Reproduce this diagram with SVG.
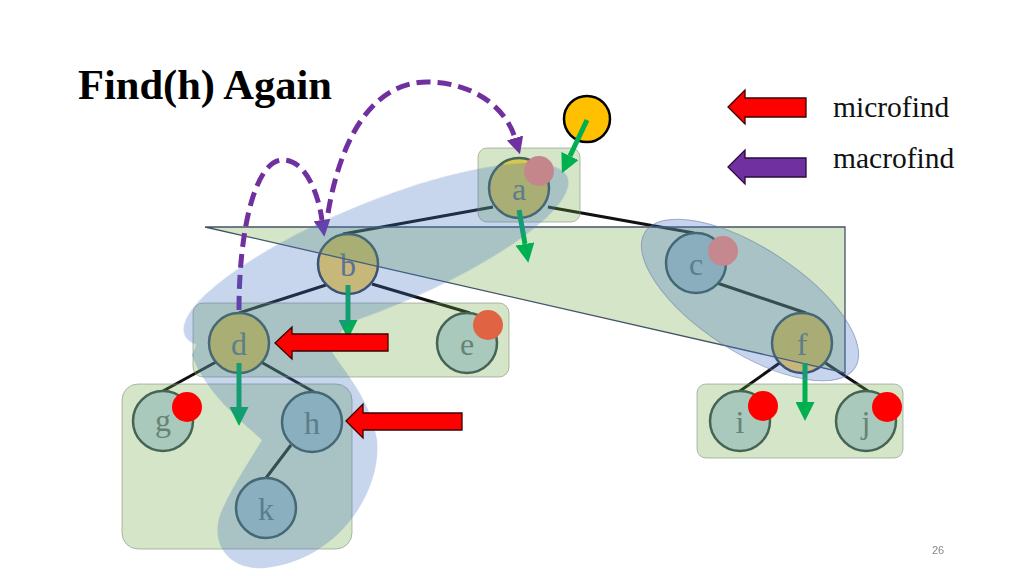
<svg xmlns="http://www.w3.org/2000/svg" width="1024" height="576" viewBox="0 0 1024 576">
<style>
.edge{stroke:#111;stroke-width:3;fill:none}
.nd{stroke:#34465a;stroke-width:2.5}
.gold{fill:#FFD45A}
.blu{fill:#c0d6f0}
.lbl{font-family:"Liberation Serif",serif;font-size:32px;text-anchor:middle;fill:#62728a}
.micro{fill:#70AD47;fill-opacity:0.3;stroke:#7f8f7f;stroke-opacity:0.6;stroke-width:1}
.garrow{stroke:#00B050;stroke-width:5;fill:none;marker-end:url(#gh)}
.parrow{stroke:#7030A0;stroke-width:5;fill:none;stroke-dasharray:14 7;marker-end:url(#ph)}
.redarrow{fill:#FF0000;stroke:#3a0000;stroke-width:1.3}
.legend{font-family:"Liberation Serif",serif;font-size:29.5px;fill:#111}
</style>
<defs>
<marker id="gh" viewBox="0 0 10 10" refX="0" refY="5" markerWidth="19" markerHeight="19" markerUnits="userSpaceOnUse" orient="auto"><path d="M0,0 L10,5 L0,10 z" fill="#00B050"/></marker>
<marker id="ph" viewBox="0 0 10 10" refX="0" refY="5" markerWidth="17" markerHeight="17" markerUnits="userSpaceOnUse" orient="auto"><path d="M0,0 L10,5 L0,10 z" fill="#7030A0"/></marker>
</defs>
<rect width="1024" height="576" fill="#fff"/>
<text x="78" y="99" font-family="Liberation Serif,serif" font-size="42.5" font-weight="bold" fill="#000">Find(h) Again</text>
<g id="legend">
<polygon class="redarrow" points="728,107 745,90 745,98 806,98 806,117 745,117 745,124"/>
<text class="legend" x="833" y="117">microfind</text>
<polygon points="728,167 745,150 745,158 806,158 806,177 745,177 745,184" fill="#7030A0" stroke="#2a0a40" stroke-width="1.3"/>
<text class="legend" x="833" y="168">macrofind</text>
</g>
<g id="connectors">
<line class="edge" x1="493" y1="207" x2="343" y2="234"/>
<line class="edge" x1="548" y1="207" x2="694" y2="233"/>
<line class="edge" x1="326" y1="285" x2="239" y2="313"/>
<line class="edge" x1="372" y1="284" x2="470" y2="313"/>
<line class="edge" x1="216" y1="362" x2="163" y2="391"/>
<line class="edge" x1="261" y1="362" x2="314" y2="392"/>
<line class="edge" x1="291" y1="445" x2="266" y2="478"/>
<line class="edge" x1="717" y1="283" x2="806" y2="313"/>
<line class="edge" x1="781" y1="362" x2="740" y2="391"/>
<line class="edge" x1="824" y1="362" x2="868" y2="391"/>
</g>
<g id="node-a"><circle class="nd gold" cx="519" cy="188" r="30"/><text class="lbl" x="519" y="200">a</text></g>
<g id="node-b"><circle class="nd gold" cx="348" cy="264" r="30"/><text class="lbl" x="348" y="276">b</text></g>
<g id="node-c"><circle class="nd blu" cx="696" cy="263" r="30"/><text class="lbl" x="696" y="275">c</text></g>
<g id="node-d"><circle class="nd gold" cx="239" cy="343" r="30"/><text class="lbl" x="239" y="355">d</text></g>
<g id="node-e"><circle class="nd blu" cx="467" cy="343" r="30"/><text class="lbl" x="467" y="355">e</text></g>
<g id="node-f"><circle class="nd gold" cx="802" cy="343" r="30"/><text class="lbl" x="802" y="355">f</text></g>
<g id="node-g"><circle class="nd blu" cx="163" cy="421" r="30"/><text class="lbl" x="163" y="431">g</text></g>
<g id="node-h"><circle class="nd blu" cx="312" cy="422" r="30"/><text class="lbl" x="312" y="434">h</text></g>
<g id="node-i"><circle class="nd blu" cx="740" cy="421" r="30"/><text class="lbl" x="740" y="433">i</text></g>
<g id="node-j"><circle class="nd blu" cx="866" cy="421" r="30"/><text class="lbl" x="866" y="433">j</text></g>
<g id="node-k"><circle class="nd blu" cx="266" cy="508" r="30"/><text class="lbl" x="266" y="520">k</text></g>
<g id="micro-trees">
<rect class="micro" x="478" y="148" width="102" height="74" rx="9"/>
<rect class="micro" x="193" y="303" width="316" height="74" rx="10"/>
<rect class="micro" x="122" y="384" width="230" height="165" rx="16"/>
<rect class="micro" x="697" y="384" width="206" height="74" rx="9"/>
<polygon points="205,227 845,227 845,373" fill="#70AD47" fill-opacity="0.3" stroke="#44546A" stroke-width="1.3"/>
</g>
<g id="green-arrows">
<line class="garrow" x1="519" y1="210" x2="525" y2="244"/>
<line class="garrow" x1="348" y1="285" x2="348" y2="320"/>
<line class="garrow" x1="239" y1="363" x2="239" y2="407"/>
<line class="garrow" x1="805" y1="363" x2="805" y2="402"/>
</g>
<g id="macrofind-arrows">
<path class="parrow" d="M239,310 C239,230 255,160 283,160 C305,160 318,192 322,220"/>
<path class="parrow" d="M328,213 C343,125 380,82 427,82 C470,82 505,105 515,138"/>
</g>
<g id="macro-paths">
<g opacity="0.3" fill="#4472C4">
<ellipse cx="376" cy="256" rx="207" ry="53" transform="rotate(-22.4 376 256)"/>
<path d="M215,300 L385,296 C362,313 338,330 330,348 C338,365 370,395 377,440 C382,490 340,560 265,568 C230,571 210,545 220,515 C230,490 250,460 262,440 C240,420 205,392 192,355 Z"/>
</g>
<ellipse cx="750" cy="300" rx="125" ry="52" transform="rotate(33 750 300)" fill="#4472C4" fill-opacity="0.3" stroke="#6a7fb0" stroke-opacity="0.6" stroke-width="1"/>
</g>
<g id="marks">
<circle cx="539" cy="171" r="15" fill="#c4868a"/>
<circle cx="723" cy="251" r="15" fill="#c4888e"/>
<circle cx="488" cy="325" r="15" fill="#e06444"/>
<circle cx="187" cy="407" r="15" fill="#FF0000"/>
<circle cx="763" cy="406" r="15" fill="#FF0000"/>
<circle cx="887" cy="407" r="15" fill="#FF0000"/>
</g>
<g id="microfind-arrows">
<polygon class="redarrow" points="275,343 292,327 292,334 388,334 388,351 292,351 292,359"/>
<polygon class="redarrow" points="346,421 363,404 363,413 462,413 462,430 363,430 363,438"/>
</g>
<g id="start">
<circle cx="587" cy="119" r="23" fill="#FFC000" stroke="#000" stroke-width="2.5"/>
<line class="garrow" x1="587" y1="120" x2="570" y2="156"/>
</g>
<text x="938" y="554" font-family="Liberation Sans,sans-serif" font-size="11" fill="#888" text-anchor="middle">26</text>
</svg>
